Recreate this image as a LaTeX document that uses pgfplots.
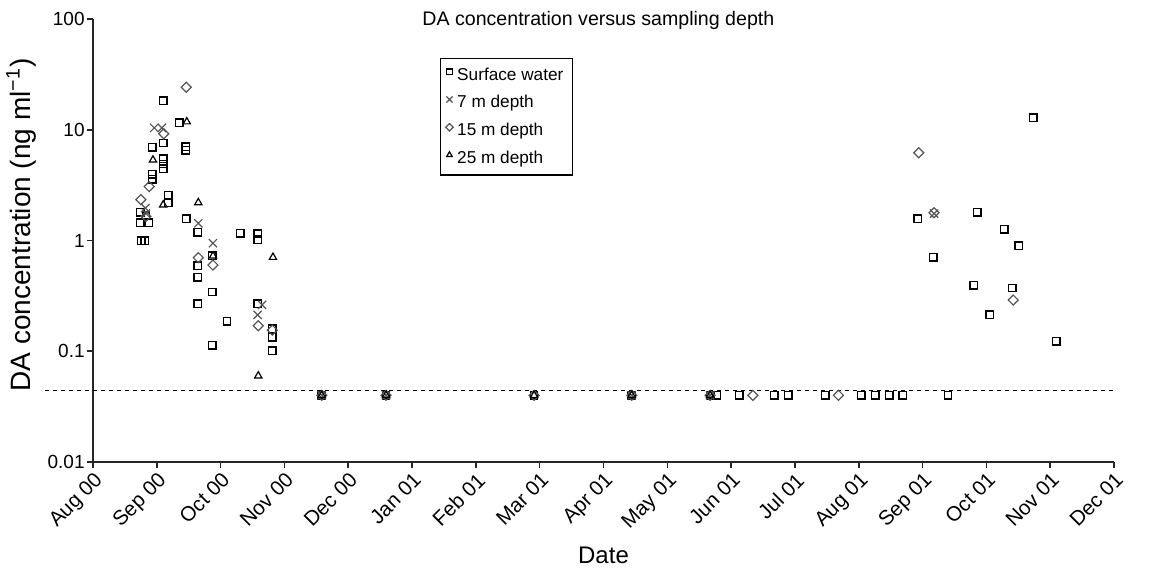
\documentclass[border=0pt]{standalone}
\usepackage{fontspec}
\setmainfont{Liberation Sans}
\usepackage{pgfplots}
\pgfplotsset{compat=1.18}
\definecolor{markgrey}{HTML}{555555}
\pgfdeclareplotmark{rdiamond}{%
  \pgfpathmoveto{\pgfqpoint{0pt}{\pgfplotmarksize}}%
  \pgfpathlineto{\pgfqpoint{\pgfplotmarksize}{0pt}}%
  \pgfpathlineto{\pgfqpoint{0pt}{-\pgfplotmarksize}}%
  \pgfpathlineto{\pgfqpoint{-\pgfplotmarksize}{0pt}}%
  \pgfpathclose\pgfusepathqstroke}

\begin{document}
\begin{tikzpicture}
\begin{axis}[
  scale only axis, width=510.5pt, height=221.5pt,
  ymode=log, xmin=0, xmax=16, ymin=0.01, ymax=100,
  axis x line*=bottom, axis y line*=left,
  axis line style={black!85, line width=0.8pt},
  xtick={0,...,16},
  xticklabels={Aug 00,Sep 00,Oct 00,Nov 00,Dec 00,Jan 01,Feb 01,Mar 01,Apr 01,May 01,Jun 01,Jul 01,Aug 01,Sep 01,Oct 01,Nov 01,Dec 01},
  ytick={0.01,0.1,1,10,100}, yticklabels={0.01,0.1,1,10,100},
  yminorticks=false,
  tick align=outside, major tick length=3pt,
  tick style={black!85, line width=0.8pt},
  xticklabel style={font=\fontsize{10.3}{12}\selectfont, rotate=45, anchor=north east, inner sep=1pt},
  yticklabel style={font=\fontsize{9.5}{11}\selectfont, inner sep=1pt},
  clip=false,
  legend style={at={(0.34,0.912)}, anchor=north west, draw=black, line width=0.6pt,
    font=\fontsize{8.6}{10}\selectfont, row sep=2.1pt, inner sep=2.5pt},
  legend cell align=left,
  legend image code/.code={\draw[#1, every mark/.append style={scale=0.75}] plot coordinates {(0.12cm,0.06cm)};},
]
% detection limit
\addplot[forget plot, black, line width=0.6pt, dash pattern=on 2pt off 2pt] coordinates {(-0.75,0.044)(16,0.044)};

% surface water
\addplot[only marks, mark=square, mark size=1.85pt, draw=black, line width=0.7pt] coordinates {
 (0.74,1.80)(0.74,1.45)(0.87,1.45)(0.76,1.0)(0.81,1.0)(0.83,1.68)
 (0.93,6.95)(0.93,3.96)(0.93,3.57)
 (1.10,18.3)(1.10,7.6)(1.10,5.48)(1.10,4.91)(1.10,4.45)
 (1.18,2.58)(1.18,2.19)
 (1.35,11.6)(1.45,7.05)(1.45,6.5)(1.46,1.57)
 (1.64,1.19)(1.64,0.59)(1.64,0.467)(1.64,0.268)
 (1.87,0.73)(1.87,0.343)(1.87,0.113)
 (2.10,0.187)(2.31,1.16)
 (2.58,1.15)(2.58,1.02)(2.58,0.268)
 (2.81,0.16)(2.81,0.134)(2.81,0.101)
 (3.585,0.04)(4.592,0.04)(6.912,0.04)(8.443,0.04)(9.671,0.04)(9.776,0.04)
 (10.13,0.04)(10.674,0.04)(10.898,0.04)(11.473,0.04)(12.038,0.04)(12.257,0.04)
 (12.476,0.04)(12.691,0.04)(13.397,0.04)
 (12.926,1.57)(13.171,0.706)(13.86,1.8)(13.804,0.395)(14.049,0.214)
 (14.279,1.26)(14.404,0.373)(14.509,0.9)(14.734,12.8)(15.094,0.123)
};
% 7 m
\addplot[only marks, mark=x, mark size=2.9pt, draw=markgrey, line width=0.6pt] coordinates {
 (0.96,10.4)(1.08,10.4)(0.82,1.96)(0.83,1.75)(1.65,1.43)(1.88,0.946)
 (2.65,0.262)(2.58,0.213)(13.18,1.75)
 (3.585,0.04)(4.592,0.04)(8.443,0.04)(9.671,0.04)
};
% 15 m
\addplot[only marks, mark=rdiamond, mark size=2.5pt, draw=markgrey, line width=0.6pt] coordinates {
 (1.46,24.2)(1.11,9.2)(0.88,3.07)(0.75,2.34)(0.83,1.65)(1.65,0.70)(1.88,0.60)
 (2.59,0.17)(2.81,0.155)(12.94,6.2)(13.18,1.78)(14.42,0.29)
 (3.585,0.04)(4.592,0.04)(6.912,0.04)(8.443,0.04)(9.671,0.04)(10.34,0.04)(11.682,0.04)
};
% 25 m
\addplot[only marks, mark=triangle, mark size=2.1pt, draw=black, line width=0.6pt] coordinates {
 (1.47,11.8)(0.94,5.34)(1.10,2.1)(1.65,2.2)(1.88,0.726)(2.82,0.706)(2.59,0.060)
 (3.585,0.04)(4.592,0.04)(6.912,0.04)(8.443,0.04)(9.671,0.04)
};
\legend{Surface water,7 m depth,15 m depth,25 m depth}

\node[font=\fontsize{9.8}{11}\selectfont] at (rel axis cs:0.495,1) [yshift=-0.5pt] {DA concentration versus sampling depth};
\node[font=\fontsize{14}{16}\selectfont, rotate=90] at ([xshift=-36pt]rel axis cs:0,0.535) {DA concentration (ng ml\textsuperscript{−1})};
\node[font=\fontsize{12}{14}\selectfont] at ([yshift=-46.5pt]rel axis cs:0.5,0) {Date};
\end{axis}
\pgfresetboundingbox
\path[use as bounding box] ([shift={(-46.5pt,-55pt)}]current axis.south west) rectangle ([shift={(21pt,9.5pt)}]current axis.north east);
\end{tikzpicture}
\end{document}
